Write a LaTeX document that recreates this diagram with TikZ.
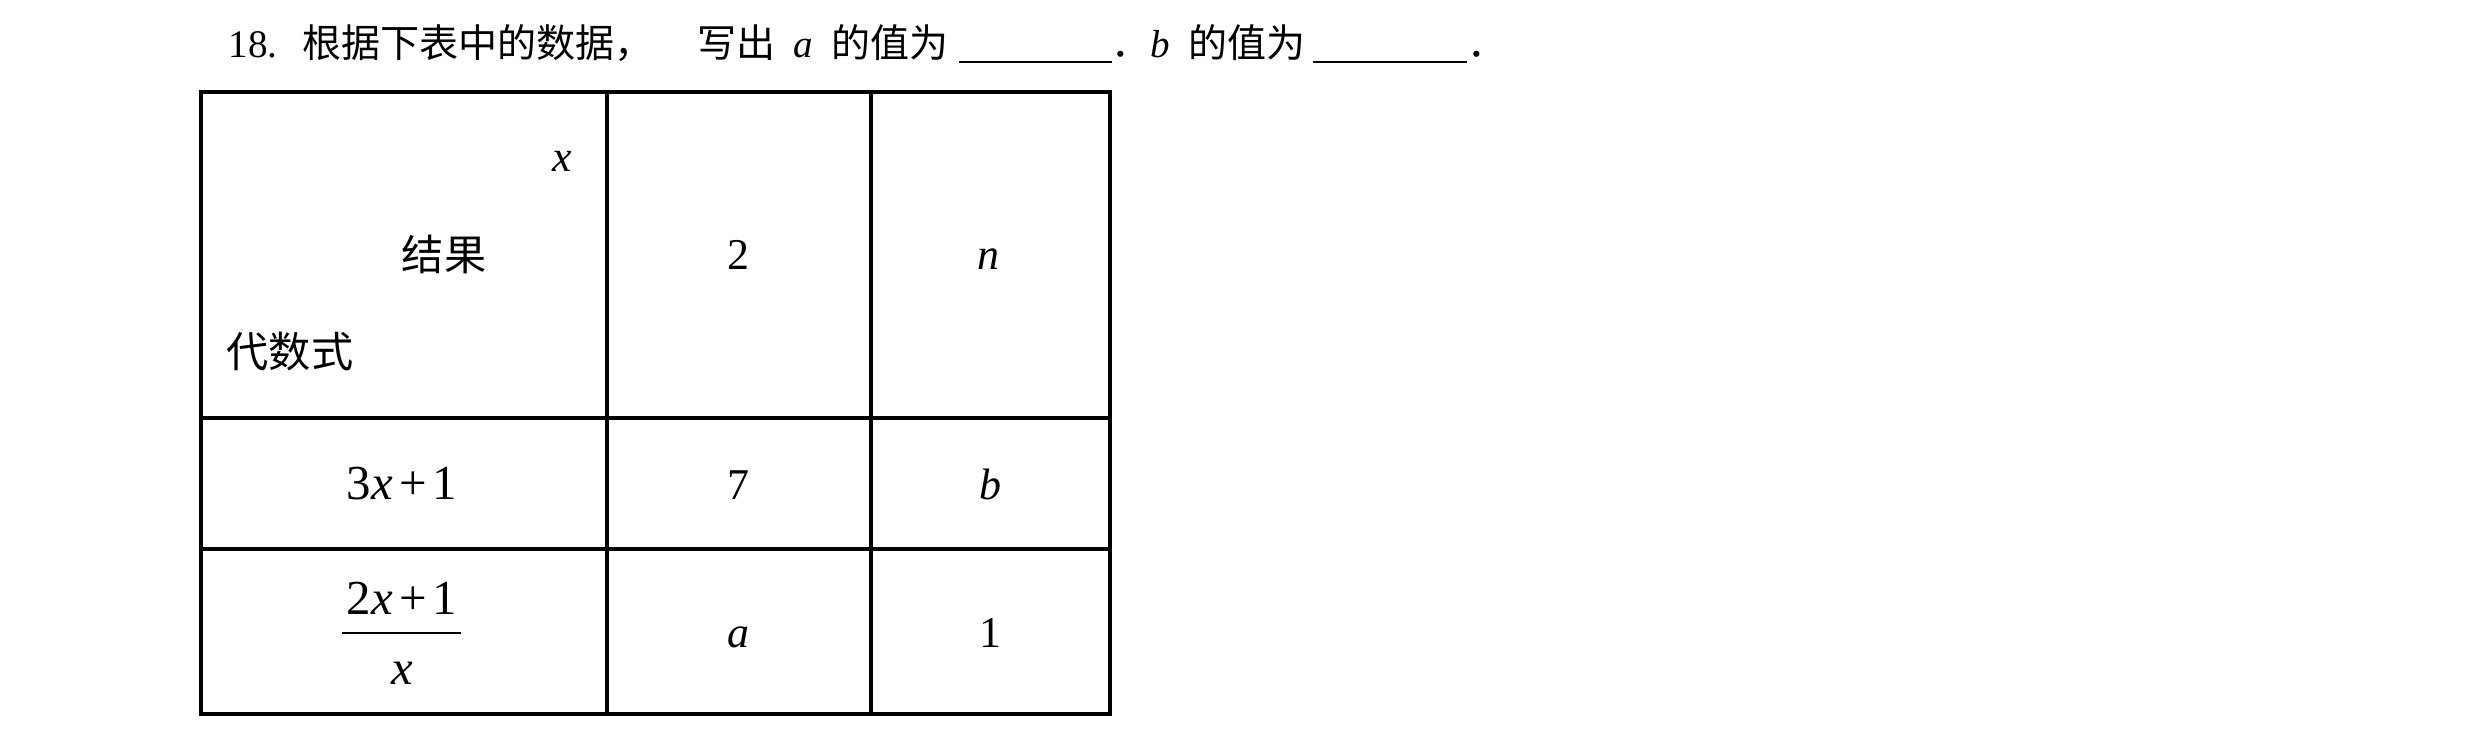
\documentclass[tikz,border=0pt]{standalone}
\usepackage{fontspec}
\setmainfont{Liberation Serif}
\newfontfamily\cjk{Noto Sans CJK SC}
\usepackage{tikz}

\begin{document}
\begin{tikzpicture}[x=0.01cm, y=-0.01cm,
        txt/.style={inner sep=0pt, font=\fontsize{11.1}{13}\selectfont},
        cell/.style={inner sep=0pt, font=\fontsize{12.5}{15}\selectfont},
        head/.style={inner sep=0pt, font=\fontsize{12}{14}\selectfont\cjk},
        expr/.style={inner sep=0pt, font=\fontsize{13.9}{16}\selectfont},
        grid/.style={line width=1.05pt, black}]
    \useasboundingbox (0,0) rectangle (2480,734);

    % Question
    \node[txt, anchor=base west] (question) at (228,57.5) {18.\hspace{0.25cm}{\cjk 根据下表中的数据，}\hspace{0.44cm}{\cjk 写出}\hspace{0.18cm}\textit{a}\hspace{0.18cm}{\cjk 的值为}\hspace{0.1cm}\rule[-0.055cm]{1.53cm}{0.02cm}{\cjk ．}\textit{b}\hspace{0.18cm}{\cjk 的值为}\hspace{0.08cm}\rule[-0.055cm]{1.54cm}{0.02cm}{\cjk ．}};

    % Table
    \draw[grid] (201,92) rectangle (1110,714);
    \draw[grid] (607,92) -- (607,714);
    \draw[grid] (871,92) -- (871,714);
    \draw[grid] (201,418) -- (1110,418);
    \draw[grid] (201,549) -- (1110,549);

    % Header cell
    \node[cell, anchor=base] (xvar) at (562,172) {\textit{x}};
    \node[head] (result) at (444,254) {结果};
    \node[head] (algebra) at (290,352) {代数式};
    \node[cell, anchor=base] (two) at (738,270) {2};
    \node[cell, anchor=base] (nvar) at (988,270) {\textit{n}};

    % Row 3x+1
    \node[expr, anchor=base] (lin) at (402,500) {3\textit{x}\hspace{0.06cm}+\hspace{0.06cm}1};
    \node[cell, anchor=base] (seven) at (738,500) {7};
    \node[cell, anchor=base] (bvar) at (990,500) {\textit{b}};

    % Row (2x+1)/x
    \node[expr, anchor=base] (num) at (402,615) {2\textit{x}\hspace{0.06cm}+\hspace{0.06cm}1};
    \draw[line width=0.45pt] (342,633) -- (461,633);
    \node[expr, anchor=base] (den) at (402,685) {\textit{x}};
    \node[cell, anchor=base] (avar) at (738,648) {\textit{a}};
    \node[cell, anchor=base] (one) at (990,648) {1};
\end{tikzpicture}
\end{document}
